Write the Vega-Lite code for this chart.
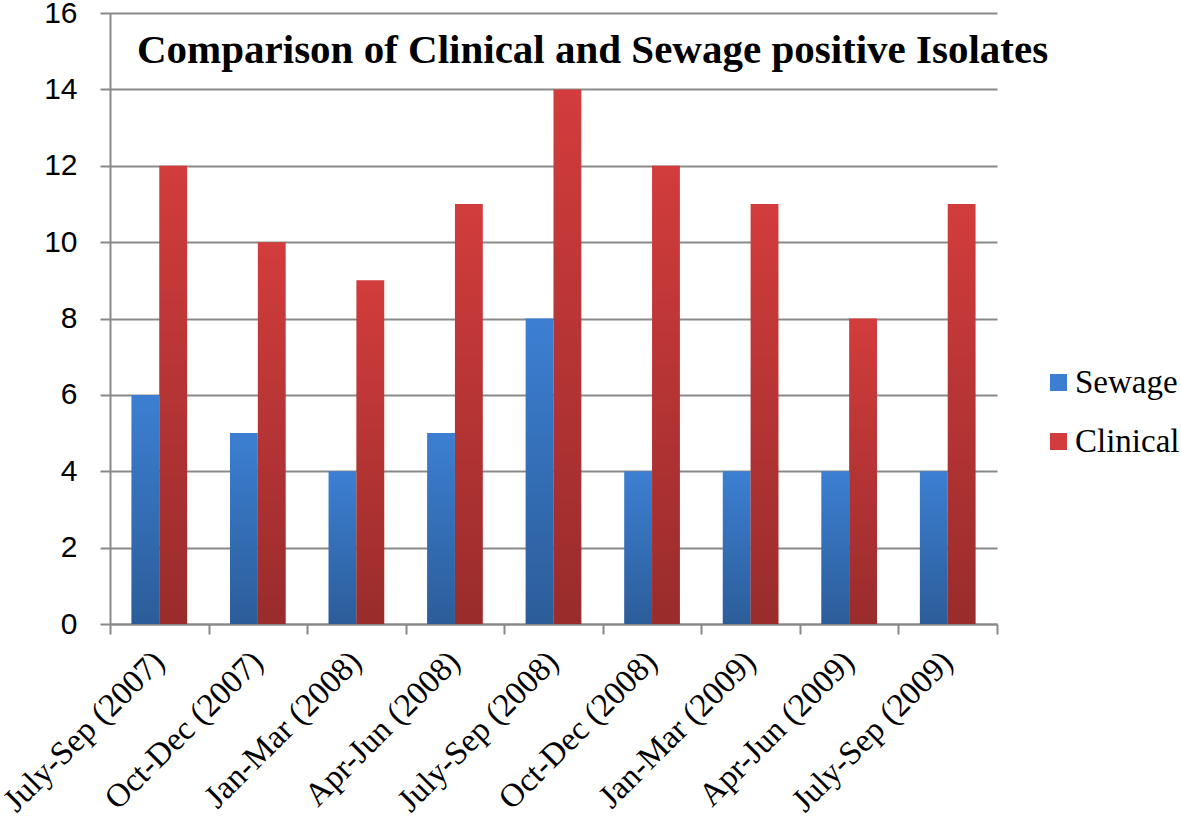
{
  "$schema": "https://vega.github.io/schema/vega-lite/v6.json",
  "width": 887,
  "height": 611,
  "autosize": {"type": "none"},
  "padding": {"left": 110, "top": 13, "right": 184, "bottom": 195},
  "background": "white",
  "title": {
    "text": "Comparison of Clinical and Sewage positive Isolates",
    "font": "Liberation Serif",
    "fontSize": 41,
    "fontWeight": "bold",
    "color": "black",
    "anchor": "start",
    "frame": "group",
    "orient": "top",
    "baseline": "alphabetic",
    "offset": 0,
    "dy": 106,
    "dx": 27
  },
  "data": {
    "values": [
      {"period": "July-Sep (2007)", "series": "Sewage", "value": 6},
      {"period": "July-Sep (2007)", "series": "Clinical", "value": 12},
      {"period": "Oct-Dec (2007)", "series": "Sewage", "value": 5},
      {"period": "Oct-Dec (2007)", "series": "Clinical", "value": 10},
      {"period": "Jan-Mar (2008)", "series": "Sewage", "value": 4},
      {"period": "Jan-Mar (2008)", "series": "Clinical", "value": 9},
      {"period": "Apr-Jun (2008)", "series": "Sewage", "value": 5},
      {"period": "Apr-Jun (2008)", "series": "Clinical", "value": 11},
      {"period": "July-Sep (2008)", "series": "Sewage", "value": 8},
      {"period": "July-Sep (2008)", "series": "Clinical", "value": 14},
      {"period": "Oct-Dec (2008)", "series": "Sewage", "value": 4},
      {"period": "Oct-Dec (2008)", "series": "Clinical", "value": 12},
      {"period": "Jan-Mar (2009)", "series": "Sewage", "value": 4},
      {"period": "Jan-Mar (2009)", "series": "Clinical", "value": 11},
      {"period": "Apr-Jun (2009)", "series": "Sewage", "value": 4},
      {"period": "Apr-Jun (2009)", "series": "Clinical", "value": 8},
      {"period": "July-Sep (2009)", "series": "Sewage", "value": 4},
      {"period": "July-Sep (2009)", "series": "Clinical", "value": 11}
    ]
  },
  "encoding": {
    "x": {
      "field": "period",
      "type": "nominal",
      "sort": null,
      "scale": {"paddingInner": 0, "paddingOuter": 0},
      "axis": {
        "title": null,
        "tickBand": "extent",
        "labelAngle": -45,
        "labelFont": "Liberation Serif",
        "labelFontSize": 33,
        "labelColor": "black",
        "labelPadding": 11,
        "labelOffset": -12,
        "labelLimit": 0,
        "domainColor": "#898989",
        "domainWidth": 2,
        "tickColor": "#898989",
        "tickWidth": 2,
        "tickSize": 10,
        "grid": false
      }
    },
    "xOffset": {
      "field": "series",
      "type": "nominal",
      "sort": ["Sewage", "Clinical"],
      "scale": {"paddingInner": 0, "paddingOuter": 0.77}
    },
    "y": {
      "field": "value",
      "type": "quantitative",
      "scale": {"domain": [0, 16], "nice": false},
      "axis": {
        "title": null,
        "values": [0, 2, 4, 6, 8, 10, 12, 14, 16],
        "labelFont": "Liberation Sans",
        "labelFontSize": 30,
        "labelColor": "black",
        "labelPadding": 23,
        "domainColor": "#898989",
        "domainWidth": 2,
        "tickColor": "#898989",
        "tickWidth": 2,
        "tickSize": 10,
        "grid": true,
        "gridColor": "#898989",
        "gridWidth": 2
      }
    }
  },
  "layer": [
    {
      "mark": {"type": "bar"},
      "encoding": {
        "color": {
          "field": "series",
          "type": "nominal",
          "scale": {"domain": ["Sewage", "Clinical"], "range": ["#3c7fd2", "#d23c3c"]},
          "legend": {
            "title": null,
            "orient": "none",
            "legendX": 932,
            "legendY": 353,
            "padding": 0,
            "symbolType": "square",
            "symbolSize": 289,
            "symbolStrokeWidth": 0,
            "symbolOpacity": 1,
            "labelFont": "Liberation Serif",
            "labelFontSize": 33,
            "labelColor": "black",
            "labelOffset": 0,
            "labelLimit": 0,
            "rowPadding": 25
          }
        }
      }
    },
    {
      "mark": {
        "type": "bar",
        "fill": {
          "gradient": "linear",
          "x1": 0, "y1": 0, "x2": 0, "y2": 1,
          "stops": [
            {"offset": 0, "color": "rgba(0,0,0,0)"},
            {"offset": 1, "color": "rgba(0,0,0,0.27)"}
          ]
        }
      },
      "encoding": {}
    }
  ],
  "config": {
    "view": {"stroke": null}
  }
}
